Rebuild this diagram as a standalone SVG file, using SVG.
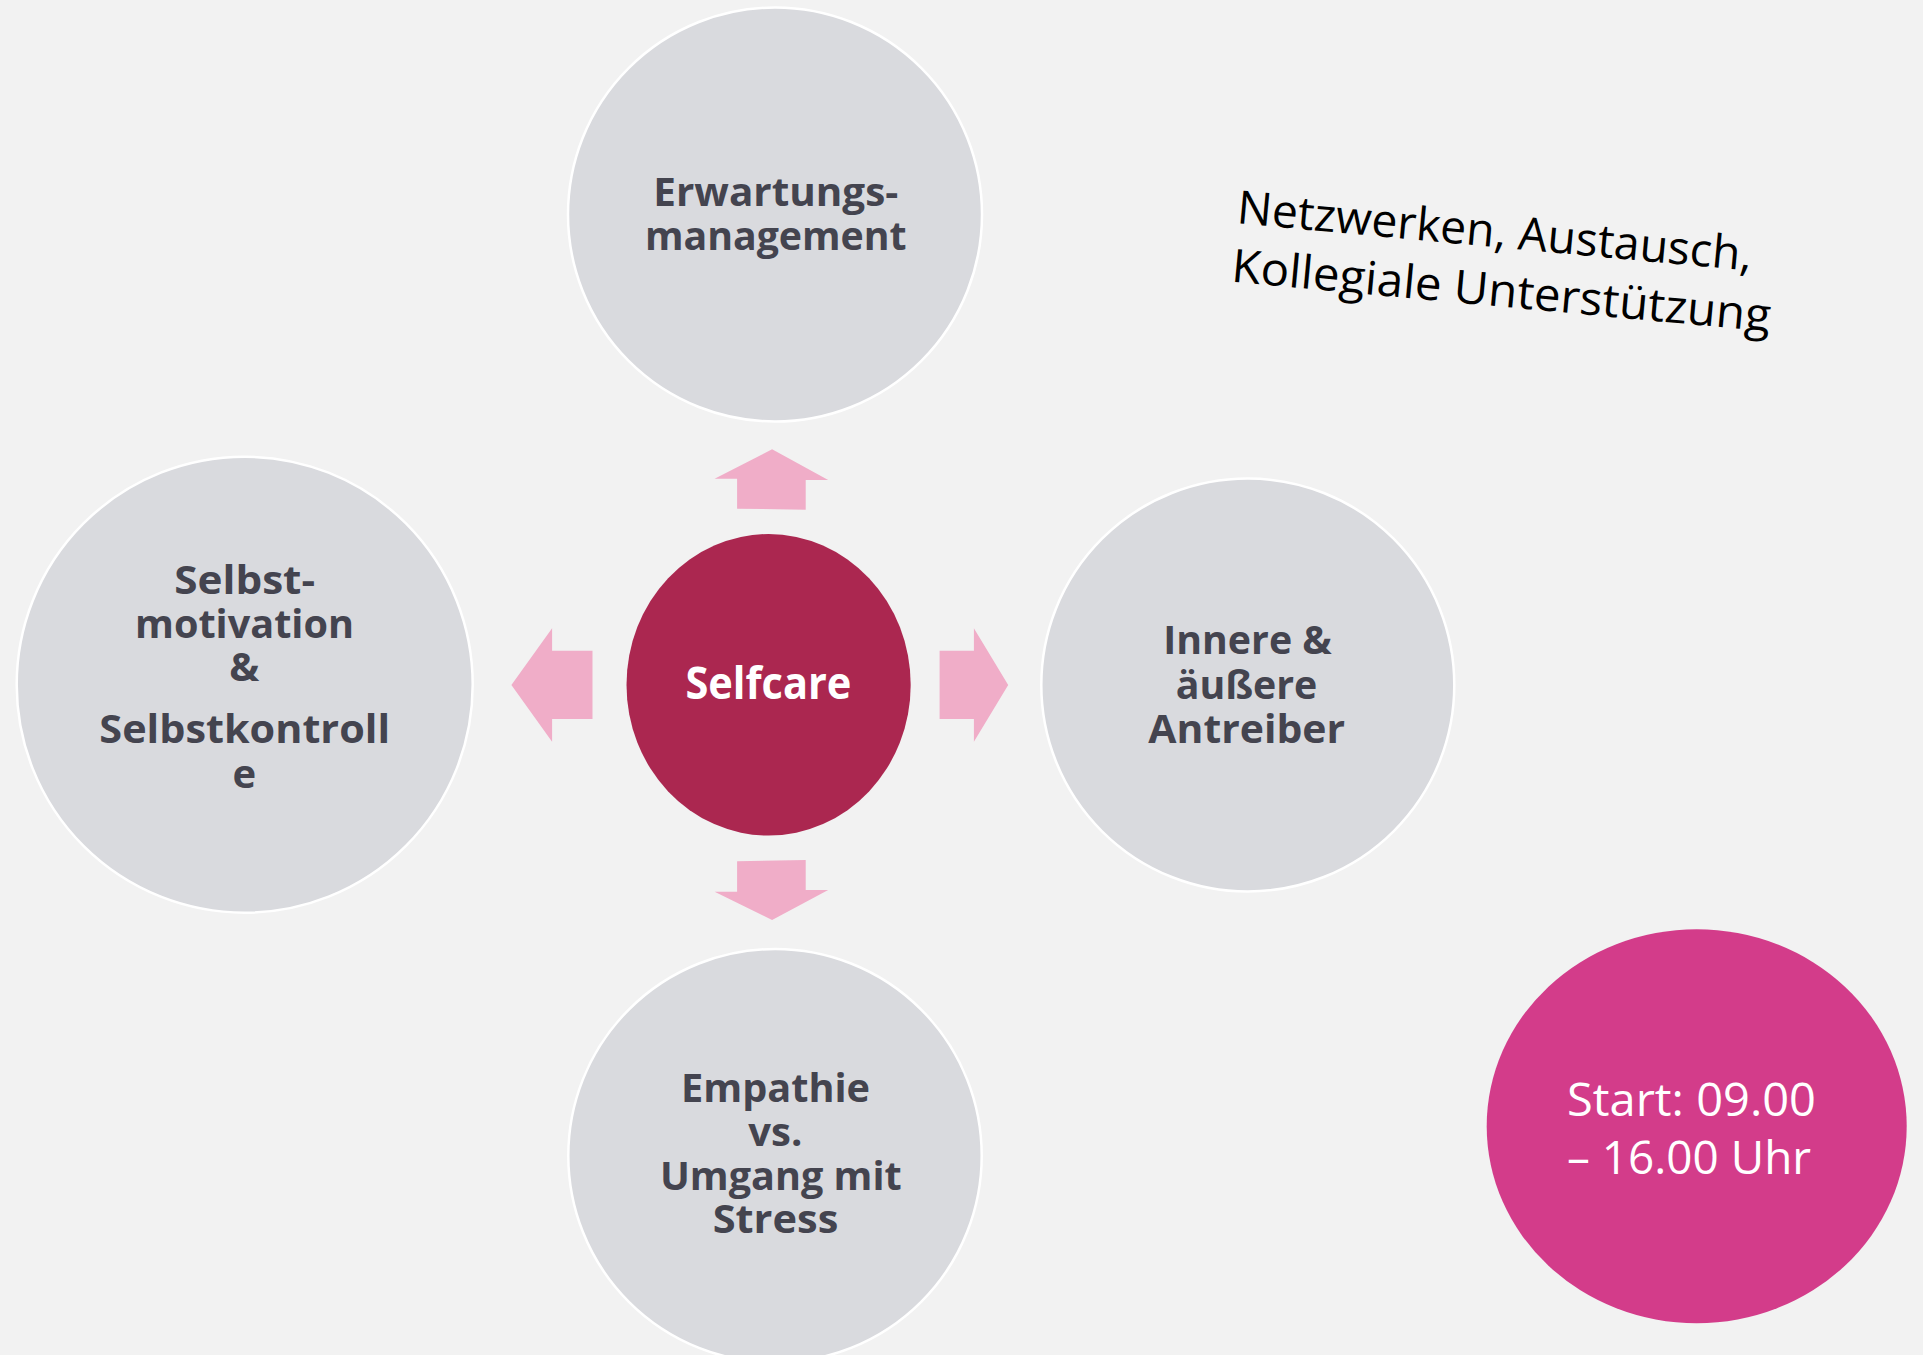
<svg xmlns="http://www.w3.org/2000/svg" width="1923" height="1355" viewBox="0 0 1923 1355">
<style>
.bg{fill:#F2F2F2}
.topic{fill:#D9DADE;stroke:#FFFFFF;stroke-width:2.5}
.lbl{font-family:"Open Sans","Noto Sans","Liberation Sans",sans-serif;font-weight:700;font-size:40px;fill:#44444F;text-anchor:middle}
.core{fill:#AB2750}
.corelbl{font-family:"Open Sans","Noto Sans","Liberation Sans",sans-serif;font-weight:700;font-size:44px;fill:#FFFFFF;text-anchor:middle}
.arrow{fill:#F0ADC8}
.note{font-family:"Open Sans","Noto Sans","Liberation Sans",sans-serif;font-weight:400;font-size:46px;fill:#000000}
.start{fill:#D33C8A}
.startlbl{font-family:"Open Sans","Noto Sans","Liberation Sans",sans-serif;font-weight:400;font-size:46px;fill:#FFFFFF}
</style>
<rect class="bg" x="0" y="0" width="1923" height="1355"/>

<g id="connectors">
<polygon class="arrow" points="772.1,449.3 828.2,480 805.7,480 805.7,509.7 737.1,508.7 737.1,478.7 714.6,478.7"/>
<polygon class="arrow" points="772.1,920 714.6,891.7 737.1,891.7 737.1,861.3 805.7,860 805.7,890 828.2,890"/>
<polygon class="arrow" points="511.4,685 552.1,628.3 552.1,650.7 592.5,650.7 592.5,719 552.1,719 552.1,741.7"/>
<polygon class="arrow" points="1008.2,685 973.9,741.7 973.9,719 939.6,719 939.6,650.7 973.9,650.7 973.9,628.3"/>
</g>

<g id="node-erwartung">
<circle class="topic" cx="775" cy="214.5" r="207"/>
<text class="lbl" x="775.8" y="206" textLength="245" lengthAdjust="spacingAndGlyphs">Erwartungs-</text>
<text class="lbl" x="775.8" y="250" textLength="261.7" lengthAdjust="spacingAndGlyphs">management</text>
</g>

<g id="node-selbst">
<circle class="topic" cx="244.7" cy="684.7" r="228"/>
<text class="lbl" x="244.7" y="594" textLength="140.7" lengthAdjust="spacingAndGlyphs">Selbst-</text>
<text class="lbl" x="244.5" y="638" textLength="219" lengthAdjust="spacingAndGlyphs">motivation</text>
<text class="lbl" x="244.2" y="680.7">&amp;</text>
<text class="lbl" x="244.7" y="742.7" textLength="290.7" lengthAdjust="spacingAndGlyphs">Selbstkontroll</text>
<text class="lbl" x="244.2" y="787.7">e</text>
</g>

<g id="node-antreiber">
<circle class="topic" cx="1247.8" cy="685" r="206.5"/>
<text class="lbl" x="1247.5" y="654.3" textLength="168.4" lengthAdjust="spacingAndGlyphs">Innere &amp;</text>
<text class="lbl" x="1246.5" y="699" textLength="141.6" lengthAdjust="spacingAndGlyphs">äußere</text>
<text class="lbl" x="1246.7" y="742.7" textLength="196.7" lengthAdjust="spacingAndGlyphs">Antreiber</text>
</g>

<g id="node-empathie">
<circle class="topic" cx="775" cy="1155.7" r="206.7"/>
<text class="lbl" x="775.5" y="1101.7" textLength="189" lengthAdjust="spacingAndGlyphs">Empathie</text>
<text class="lbl" x="775.3" y="1146">vs.</text>
<text class="lbl" x="780.8" y="1190" textLength="241.7" lengthAdjust="spacingAndGlyphs">Umgang mit</text>
<text class="lbl" x="775.5" y="1233.3" textLength="125.6" lengthAdjust="spacingAndGlyphs">Stress</text>
</g>

<g id="node-selfcare">
<ellipse class="core" cx="768.6" cy="684.8" rx="142.1" ry="150.8"/>
<text class="corelbl" x="768.4" y="699.3" textLength="166" lengthAdjust="spacingAndGlyphs">Selfcare</text>
</g>

<g id="note-netzwerken" transform="rotate(5.3 1238.3 223.3)">
<text class="note" x="1236" y="223.3" textLength="517" lengthAdjust="spacingAndGlyphs">Netzwerken, Austausch,</text>
<text class="note" x="1236" y="282.05" textLength="541" lengthAdjust="spacingAndGlyphs">Kollegiale Unterstützung</text>
</g>

<g id="node-start">
<ellipse class="start" cx="1696.7" cy="1126.2" rx="210" ry="197"/>
<text class="startlbl" x="1567" y="1116" textLength="249" lengthAdjust="spacingAndGlyphs">Start: 09.00</text>
<text class="startlbl" x="1567" y="1174.3" textLength="244" lengthAdjust="spacingAndGlyphs">– 16.00 Uhr</text>
</g>
</svg>
